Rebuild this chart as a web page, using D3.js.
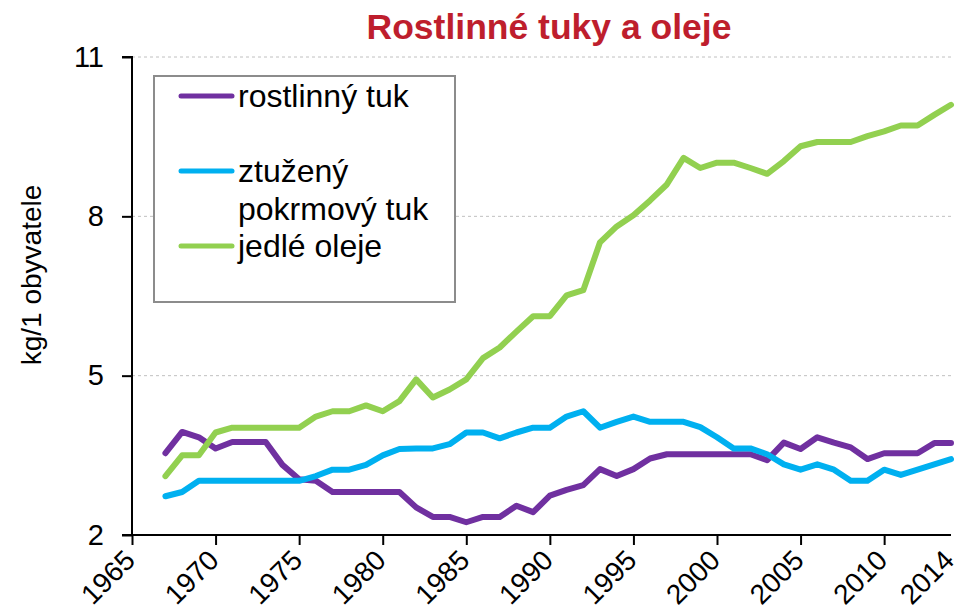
<!DOCTYPE html>
<html>
<head>
<meta charset="utf-8">
<script src="https://cdn.jsdelivr.net/npm/d3@7"></script>
<style>
  html, body { margin: 0; padding: 0; background: #fff; }
  svg { display: block; font-family: Arial, "Liberation Sans", sans-serif; }
</style>
</head>
<body>
<svg id="chart" width="973" height="605"></svg>
<script>
const years = d3.range(1967, 2015);
const rostlinnyTuk = [3.54, 3.94, 3.84, 3.63, 3.75, 3.75, 3.75, 3.32, 3.05, 3.02,
  2.81, 2.81, 2.81, 2.81, 2.81, 2.52, 2.34, 2.34, 2.24, 2.34,
  2.34, 2.55, 2.43, 2.74, 2.85, 2.94, 3.24, 3.11, 3.24, 3.44,
  3.52, 3.52, 3.52, 3.52, 3.52, 3.52, 3.41, 3.74, 3.62, 3.84,
  3.74, 3.65, 3.43, 3.54, 3.54, 3.54, 3.73, 3.73];
const ztuzenyTuk = [2.73, 2.81, 3.02, 3.02, 3.02, 3.02, 3.02, 3.02, 3.02, 3.11,
  3.23, 3.23, 3.32, 3.50, 3.62, 3.63, 3.63, 3.71, 3.93, 3.93,
  3.82, 3.93, 4.02, 4.02, 4.23, 4.33, 4.02, 4.13, 4.23, 4.13,
  4.13, 4.13, 4.03, 3.84, 3.63, 3.63, 3.52, 3.33, 3.23, 3.33,
  3.23, 3.02, 3.02, 3.23, 3.13, 3.23, 3.33, 3.43];
const jedleOleje = [3.11, 3.50, 3.50, 3.93, 4.02, 4.02, 4.02, 4.02, 4.02, 4.23,
  4.33, 4.33, 4.44, 4.33, 4.52, 4.93, 4.59, 4.74, 4.93, 5.33,
  5.53, 5.83, 6.12, 6.12, 6.51, 6.61, 7.51, 7.81, 8.02, 8.30,
  8.60, 9.10, 8.91, 9.01, 9.01, 8.91, 8.80, 9.04, 9.32, 9.40,
  9.40, 9.40, 9.51, 9.60, 9.71, 9.71, 9.91, 10.10];
const yTicks = [2, 5, 8, 11];
const xTickYears = [1965, 1970, 1975, 1980, 1985, 1990, 1995, 2000, 2005, 2010];
const xLabels = [1965, 1970, 1975, 1980, 1985, 1990, 1995, 2000, 2005, 2010, 2014];
const seriesNames = ["rostlinný tuk", "ztužený pokrmový tuk", "jedlé oleje"];
const seriesColors = ["#7030A0", "#00B0F0", "#92D050"];
const titleText = "Rostlinné tuky a oleje";
const yLabelText = "kg/1 obyvatele";

const svg = d3.select("#chart");
const x = d3.scaleLinear().domain([1965, 2014]).range([132, 951]);
const y = d3.scaleLinear().domain([2, 11]).range([535, 57]);

// grid
svg.append("g").selectAll("line").data(yTicks.filter(d => d > 2)).join("line")
  .attr("x1", x(1965)).attr("x2", x(2014))
  .attr("y1", d => y(d)).attr("y2", d => y(d))
  .attr("stroke", "#c0c0c0").attr("stroke-width", 1).attr("stroke-dasharray", "3,3");

// y axis
const yAxis = d3.axisLeft(y).tickValues(yTicks).tickSize(10).tickPadding(18).tickFormat(d3.format("d"));
const gy = svg.append("g").attr("transform", `translate(${x(1965)},0)`).call(yAxis);
gy.select(".domain").attr("stroke", "#000").attr("stroke-width", 2).attr("d", `M-10,${y(11)}H0V${y(2)}`);
gy.selectAll(".tick line").attr("stroke", "#000").attr("stroke-width", 2);
gy.selectAll(".tick text").attr("font-size", 29).attr("fill", "#000").attr("font-family", "Arial, 'Liberation Sans', sans-serif");

// x axis
const xAxis = d3.axisBottom(x).tickValues(xTickYears).tickSize(10).tickFormat("");
const gx = svg.append("g").attr("transform", `translate(0,${y(2)})`).call(xAxis);
gx.select(".domain").attr("stroke", "#000").attr("stroke-width", 2).attr("d", `M${x(1965) - 10},0H${x(2014)}`);
gx.selectAll(".tick line").attr("stroke", "#000").attr("stroke-width", 2);

svg.append("g").selectAll("text").data(xLabels).join("text")
  .attr("transform", d => `translate(${x(d) - 9},${y(2) + 13}) rotate(-45)`)
  .attr("text-anchor", "end")
  .attr("dy", "0.7em")
  .attr("font-size", 28)
  .attr("fill", "#000")
  .text(d => d);

// lines
const lineGen = d3.line().x((d, i) => x(years[i])).y(d => y(d));
const allSeries = [rostlinnyTuk, ztuzenyTuk, jedleOleje];
svg.append("g").selectAll("path").data(allSeries).join("path")
  .attr("d", d => lineGen(d))
  .attr("fill", "none")
  .attr("stroke", (d, i) => seriesColors[i])
  .attr("stroke-width", 6)
  .attr("stroke-linejoin", "round")
  .attr("stroke-linecap", "round");

// legend
const lg = svg.append("g");
lg.append("rect").attr("x", 154).attr("y", 76).attr("width", 301).attr("height", 226)
  .attr("fill", "#fff").attr("stroke", "#8c8c8c").attr("stroke-width", 2);
const legendY = [96, 171, 246];
lg.selectAll("line").data(seriesColors).join("line")
  .attr("x1", 181).attr("x2", 232)
  .attr("y1", (d, i) => legendY[i]).attr("y2", (d, i) => legendY[i])
  .attr("stroke", d => d).attr("stroke-width", 5).attr("stroke-linecap", "round");
const legendLines = [["rostlinný tuk"], ["ztužený", "pokrmový tuk"], ["jedlé oleje"]];
legendLines.forEach((lines, i) => {
  lines.forEach((t, j) => {
    lg.append("text").attr("x", 238).attr("y", legendY[i] + j * 38)
      .attr("dy", "0.35em").attr("font-size", 32).attr("fill", "#000").text(t);
  });
});

// title
svg.append("text").attr("x", 549).attr("y", 27).attr("dy", "0.35em")
  .attr("text-anchor", "middle").attr("font-size", 35.5).attr("font-weight", "bold")
  .attr("fill", "#BE1E2D").text(titleText);

// y label
svg.append("text").attr("transform", "translate(31,275) rotate(-90)")
  .attr("text-anchor", "middle").attr("dy", "0.35em")
  .attr("font-size", 28).attr("fill", "#000").text(yLabelText);
</script>
</body>
</html>
